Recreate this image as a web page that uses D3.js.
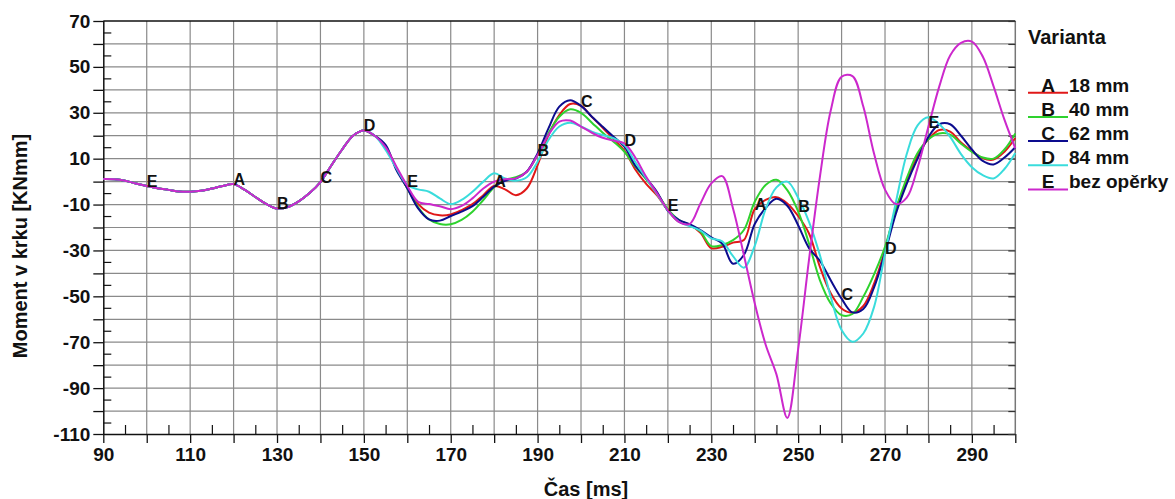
<!DOCTYPE html>
<html>
<head>
<meta charset="utf-8">
<script src="https://cdn.jsdelivr.net/npm/d3@7"></script>
<style>
  body { margin: 0; background: #fff; }
  svg { display: block; }
  text { font-family: "Liberation Sans", Arial, sans-serif; font-weight: bold; fill: #111; }
</style>
</head>
<body>
<svg id="chart" width="1175" height="499"></svg>
<script>
// Sampling instants [ms]
const time = [
  90, 92.5, 95, 97.5, 100, 102.5, 105, 107.5, 110, 112.5, 115, 117.5, 120, 122.5,
  125, 127.5, 130, 132.5, 135, 137.5, 140, 142.5, 145, 147.5, 150, 152.5,
  155, 157.5, 160, 162.5, 165, 167.5, 170, 172.5, 175, 177.5, 180, 182.5, 185, 187.5,
  190, 192.5, 195, 197.5, 200, 202.5, 205, 207.5, 210, 212.5, 215, 217.5, 220, 222.5,
  225, 227.5, 230, 232.5, 235, 237.5, 240, 242.5, 245, 247.5, 250, 252.5, 255, 257.5,
  260, 262.5, 265, 267.5, 270, 272.5, 275, 277.5, 280, 282.5, 285, 287.5, 290, 292.5,
  295, 297.5, 300
];

// Neck moment common to all variants up to ~152 ms [KNmm]
const shared = [
  1.1, 1.0, 0.4, -0.8, -1.9, -2.9, -3.6, -4.3, -4.4, -4.0, -3.0, -1.9, -1.1, -3.5,
  -6.7, -9.7, -11.7, -11.1, -8.6, -5.0, -0.2, 7.0, 14.0, 20.0, 22.3, 20.0
];

// A: 18 mm
const momentA = shared.concat([
  15.2, 5.8, -2.9, -9.8, -13.5, -14.7, -14.3, -12.4, -9.8, -5.9, -1.9, -3.4, -5.9, -3.0,
  7.2, 20.3, 29.0, 33.8, 33.0, 28.2, 23.5, 18.5, 13.5, 5.3, -1.0, -6.0, -12.5, -17.5,
  -18.9, -22.3, -29.0, -28.4, -26.6, -25.5, -12.0, -8.0, -6.8, -9.5, -15.0, -22.6, -37.1, -48.7,
  -55.3, -57.1, -54.2, -44.4, -29.8, -12.0, 0.0, 11.5, 18.5, 22.5, 21.8, 17.0, 13.3, 10.2,
  9.6, 13.0, 19.0
]);

// B: 40 mm
const momentB = shared.concat([
  15.2, 5.8, -2.9, -11.2, -16.5, -18.5, -18.6, -16.7, -13.1, -8.0, -2.5, 0.7, 1.9, 4.3,
  11.6, 21.0, 28.3, 31.5, 30.0, 25.7, 21.3, 17.4, 13.0, 6.5, 1.0, -5.0, -12.0, -16.7,
  -18.9, -21.8, -28.1, -27.6, -25.5, -21.1, -8.8, -1.5, 0.8, -3.7, -13.0, -27.0, -42.9, -53.1,
  -58.2, -57.7, -50.2, -40.3, -28.4, -12.0, 1.5, 12.5, 18.5, 21.0, 20.5, 16.5, 13.0, 10.5,
  10.0, 14.0, 21.0
]);

// C: 62 mm
const momentC = shared.concat([
  16.0, 5.0, -2.9, -11.7, -16.5, -17.0, -15.0, -13.1, -10.7, -6.6, -2.2, 0.4, 1.3, 4.3,
  12.3, 23.2, 32.7, 35.5, 33.0, 28.3, 23.9, 19.6, 15.2, 7.0, 1.5, -4.5, -12.7, -16.7,
  -18.5, -21.1, -24.3, -27.0, -35.8, -32.0, -18.5, -11.5, -7.5, -10.5, -19.0, -29.0, -34.5, -43.0,
  -51.0, -57.0, -55.5, -46.0, -31.0, -14.0, -1.0, 10.0, 19.5, 25.0, 25.0, 20.0, 14.0, 9.0,
  7.5, 10.5, 15.0
]);

// D: 84 mm
const momentD = shared.concat([
  13.8, 5.8, -1.5, -3.4, -4.4, -7.3, -9.8, -8.0, -4.4, 0.0, 3.6, 1.4, 0.4, 1.9,
  8.7, 18.1, 24.0, 25.7, 24.0, 21.8, 20.3, 18.9, 15.9, 8.5, 1.5, -5.5, -12.5, -17.5,
  -19.4, -21.4, -24.7, -26.0, -32.5, -37.5, -28.0, -12.0, -2.5, 0.0, -7.0, -17.5, -32.0, -50.2,
  -64.7, -69.8, -66.2, -54.5, -31.3, -9.0, 12.0, 24.5, 28.0, 25.0, 19.5, 12.0, 6.3, 2.8,
  1.4, 5.5, 12.5
]);

// E: without headrest
const momentE = shared.concat([
  15.0, 6.5, -1.9, -8.8, -9.8, -10.7, -12.0, -10.6, -7.3, -3.0, 0.0, 1.0, 1.4, 4.3,
  11.6, 20.3, 26.1, 26.6, 24.0, 21.3, 19.1, 17.8, 16.7, 10.5, 2.1, -5.1, -12.4, -17.5,
  -18.5, -9.5, -0.8, 2.4, -11.7, -32.0, -53.0, -71.0, -84.0, -103.0, -73.0, -34.0, 2.0, 31.0,
  45.7, 46.0, 32.7, 12.0, -3.5, -9.8, -7.0, 6.0, 24.0, 41.5, 55.0, 60.5, 61.0, 54.5,
  41.5, 27.0, 14.5
]);

const seriesKeys = ["A", "B", "C", "D", "E"];
const seriesLabels = ["18 mm", "40 mm", "62 mm", "84 mm", "bez opěrky"];
const seriesColors = ["#e01818", "#2ed22e", "#0c0c8e", "#3adcdc", "#cc28cc"];
const seriesValues = [momentA, momentB, momentC, momentD, momentE];

const xTickLabels = [90, 110, 130, 150, 170, 190, 210, 230, 250, 270, 290];
const yTickLabels = [70, 50, 30, 10, -10, -30, -50, -70, -90, -110];

// Letter markers along the curves: [time, series]
const markerTimes = [100, 120, 130, 140, 150, 160, 180, 190, 200, 210, 220, 240, 250, 260, 270, 280];
const markerSeries = ["E", "A", "B", "C", "D", "E", "A", "B", "C", "D", "E", "A", "B", "C", "D", "E"];

const svg = d3.select("#chart");
const plotL = 103.3, plotR = 1015.3, plotT = 21, plotB = 434;

const x = d3.scaleLinear().domain([90, 300]).range([plotL, plotR]);
const y = d3.scaleLinear().domain([-110, 70]).range([plotB, plotT]);

// Grid
const grid = svg.append("g").attr("stroke", "#8a8a8a").attr("stroke-width", 1.2);
grid.selectAll("line.v").data(d3.range(100, 300, 10)).join("line")
  .attr("class", "v")
  .attr("x1", d => x(d)).attr("x2", d => x(d)).attr("y1", plotT).attr("y2", plotB);
grid.selectAll("line.h").data(d3.range(-100, 70, 10)).join("line")
  .attr("class", "h")
  .attr("x1", plotL).attr("x2", plotR).attr("y1", d => y(d)).attr("y2", d => y(d));

// Frame
svg.append("line").attr("x1", plotR).attr("x2", plotR).attr("y1", plotT).attr("y2", plotB)
  .attr("stroke", "#777").attr("stroke-width", 1.5);
svg.append("line").attr("x1", plotL).attr("x2", plotR).attr("y1", plotT).attr("y2", plotT)
  .attr("stroke", "#111").attr("stroke-width", 1.5);

// X axis: major ticks outward, minor ticks inward
const xAxis = d3.axisBottom(x).tickValues(d3.range(90, 301, 10)).tickSize(9).tickPadding(5)
  .tickFormat(d => xTickLabels.includes(d) ? d : "");
const gx = svg.append("g").attr("transform", `translate(0,${plotB})`).call(xAxis);
gx.select(".domain").attr("stroke", "#111").attr("stroke-width", 1.5).attr("d", `M${plotL},0.5H${plotR}`);
gx.selectAll(".tick line").attr("stroke", "#111").attr("stroke-width", 1.3);
gx.selectAll(".tick text").style("font-size", "19px").attr("fill", "#111");

const xMinor = d3.axisBottom(x).tickValues(d3.range(95, 300, 10)).tickSize(-9).tickFormat("");
const gxm = svg.append("g").attr("transform", `translate(0,${plotB})`).call(xMinor);
gxm.select(".domain").remove();
gxm.selectAll(".tick line").attr("stroke", "#111").attr("stroke-width", 1.2);

// Y axis
const yAxis = d3.axisLeft(y).tickValues(d3.range(-110, 71, 10)).tickSize(10).tickPadding(3)
  .tickFormat(d => yTickLabels.includes(d) ? d : "");
const gy = svg.append("g").attr("transform", `translate(${plotL},0)`).call(yAxis);
gy.select(".domain").attr("stroke", "#111").attr("stroke-width", 1.5).attr("d", `M0.5,${plotT}V${plotB}`);
gy.selectAll(".tick line").attr("stroke", "#111").attr("stroke-width", 1.3);
gy.selectAll(".tick text").style("font-size", "19px").attr("fill", "#111");

const yMinor = d3.axisLeft(y).tickValues(d3.range(-105, 70, 10)).tickSize(-8).tickFormat("");
const gym = svg.append("g").attr("transform", `translate(${plotL},0)`).call(yMinor);
gym.select(".domain").remove();
gym.selectAll(".tick line").attr("stroke", "#111").attr("stroke-width", 1.2);

// Right-side inner ticks
const yRight = d3.axisRight(y).tickValues(d3.range(-110, 71, 10)).tickSize(-7).tickFormat("");
const gyr = svg.append("g").attr("transform", `translate(${plotR},0)`).call(yRight);
gyr.select(".domain").remove();
gyr.selectAll(".tick line").attr("stroke", "#333").attr("stroke-width", 1.2);

// Curves
const line = d3.line().x((d, i) => x(time[i])).y(d => y(d)).curve(d3.curveCatmullRom.alpha(0.5));
const plot = svg.append("g");
seriesValues.forEach((vals, k) => {
  plot.append("path").datum(vals)
    .attr("fill", "none").attr("stroke", seriesColors[k]).attr("stroke-width", 2)
    .attr("stroke-linejoin", "round").attr("d", line);
});

// Letter markers
svg.append("g").selectAll("text").data(markerTimes).join("text")
  .attr("x", d => x(d))
  .attr("y", (d, i) => {
    const k = seriesKeys.indexOf(markerSeries[i]);
    return y(seriesValues[k][time.indexOf(d)]) + 1;
  })
  .style("font-size", "16px")
  .text((d, i) => markerSeries[i]);

// Axis titles
svg.append("text").attr("x", 586).attr("y", 496).attr("text-anchor", "middle")
  .style("font-size", "20px").text("Čas [ms]");
svg.append("text").attr("transform", "translate(27,246) rotate(-90)").attr("text-anchor", "middle")
  .style("font-size", "20px").text("Moment v krku [KNmm]");

// Legend
const legend = svg.append("g");
legend.append("text").attr("x", 1028).attr("y", 44).style("font-size", "20px").text("Varianta");
seriesKeys.forEach((key, k) => {
  const base = 91.5 + k * 24.2;
  legend.append("line").attr("x1", 1028).attr("x2", 1068).attr("y1", base + 1.2).attr("y2", base + 1.2)
    .attr("stroke", seriesColors[k]).attr("stroke-width", 2);
  legend.append("text").attr("x", 1048).attr("y", base).attr("text-anchor", "middle")
    .style("font-size", "19px").text(key);
  legend.append("text").attr("x", 1069).attr("y", base).style("font-size", "19px").text(seriesLabels[k]);
});
</script>
</body>
</html>
